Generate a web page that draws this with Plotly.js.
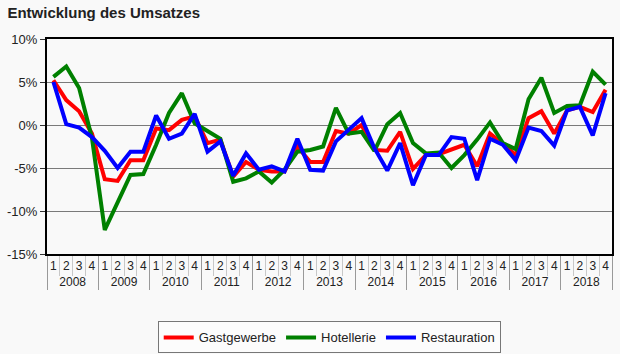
<!DOCTYPE html>
<html>
<head>
<meta charset="utf-8">
<script src="https://cdn.plot.ly/plotly-3.0.1.min.js"></script>
<style>html,body{margin:0;padding:0;background:#f9f9f9;}</style>
</head>
<body>
<div id="chart" style="width:620px;height:354px;"></div>
<script>
const years = ['2008','2009','2010','2011','2012','2013','2014','2015','2016','2017','2018'];
const quarters = ['1','2','3','4'];

const gastgewerbe = [
  5.2, 2.9, 1.6, -1.0,
  -6.3, -6.5, -4.1, -4.1,
  -0.4, -0.6, 0.6, 1.0,
  -2.1, -1.7, -6.0, -4.3,
  -5.2, -5.4, -5.4, -2.5,
  -4.3, -4.3, -0.7, -1.0,
  0.0, -2.9, -3.0, -0.8,
  -5.1, -3.5, -3.4, -2.8,
  -2.3, -4.8, -1.0, -2.2,
  -3.5, 0.8, 1.6, -1.0,
  1.7, 2.1, 1.5, 4.1
];
const hotellerie = [
  5.6, 6.8, 4.3, -1.5,
  -12.2, -8.9, -5.8, -5.7,
  -2.3, 1.4, 3.7, 0.2,
  -0.7, -1.6, -6.6, -6.2,
  -5.4, -6.7, -5.2, -3.1,
  -2.9, -2.5, 2.0, -1.0,
  -0.8, -3.0, 0.1, 1.4,
  -2.1, -3.3, -3.2, -5.0,
  -3.5, -1.7, 0.3, -2.1,
  -2.8, 3.0, 5.5, 1.4,
  2.2, 2.3, 6.2, 4.7
];
const restauration = [
  5.0, 0.1, -0.3, -1.4,
  -3.0, -5.0, -3.1, -3.1,
  1.1, -1.6, -1.0, 1.3,
  -3.1, -1.9, -5.9, -3.3,
  -5.2, -4.8, -5.4, -1.6,
  -5.2, -5.3, -1.9, -0.6,
  0.8, -2.7, -5.3, -2.1,
  -7.0, -3.5, -3.5, -1.4,
  -1.6, -6.4, -1.6, -2.3,
  -4.1, -0.3, -0.7, -2.4,
  1.7, 2.1, -1.2, 3.7
];
const seriesNames = ['Gastgewerbe', 'Hotellerie', 'Restauration'];
const yTickVals = [-15, -10, -5, 0, 5, 10];

const xYear = [], xQuarter = [];
years.forEach(y => quarters.forEach(q => { xYear.push(y); xQuarter.push(q); }));
const nPts = xYear.length;

const FONT = 'Arial, "Liberation Sans", sans-serif';
const colors = ['#ff0000', '#008000', '#0000ff'];
const data = [gastgewerbe, hotellerie, restauration].map((vals, k) => ({
  type: 'scatter',
  mode: 'lines',
  name: seriesNames[k],
  x: [xYear, xQuarter],
  y: vals,
  line: {color: colors[k], width: 4}
}));

const layout = {
  width: 620, height: 354,
  paper_bgcolor: '#f9f9f9',
  plot_bgcolor: '#f9f9f9',
  margin: {l: 47, r: 8, t: 39, b: 100},
  font: {family: FONT, size: 12, color: '#222'},
  title: {
    text: '<b>Entwicklung des Umsatzes</b>',
    font: {family: FONT, size: 15, color: '#222'},
    x: 0.012, xanchor: 'left', xref: 'container',
    y: 0.965, yanchor: 'middle', yref: 'container'
  },
  xaxis: {
    type: 'multicategory',
    range: [-0.5, nPts - 0.5],
    tickmode: 'linear', tick0: 0, dtick: 1,
    tickangle: 0,
    showline: true, linecolor: '#000', linewidth: 2, mirror: true,
    ticks: 'outside', ticklen: 20, tickcolor: '#c8c8c8', tickwidth: 1,
    showdividers: true, dividercolor: '#999', dividerwidth: 1,
    showgrid: false,
    automargin: false,
    tickfont: {family: FONT, size: 12, color: '#222'},
    fixedrange: true
  },
  yaxis: {
    range: [-15, 10],
    tickvals: yTickVals,
    ticktext: yTickVals.map(v => v + '%'),
    showline: true, linecolor: '#000', linewidth: 2, mirror: true,
    ticks: 'outside', ticklen: 5, tickcolor: '#333',
    showgrid: true, gridcolor: '#7a7a7a', gridwidth: 1,
    zeroline: false,
    automargin: false,
    tickfont: {family: FONT, size: 13, color: '#222'},
    fixedrange: true
  },
  showlegend: true,
  legend: {
    orientation: 'h',
    xref: 'container', yref: 'container',
    x: 0.531, xanchor: 'center',
    y: 0.092, yanchor: 'top',
    bgcolor: '#fcfcfc', bordercolor: '#777', borderwidth: 1,
    font: {family: FONT, size: 13, color: '#222'},
    tracegroupgap: 0
  }
};

Plotly.newPlot('chart', data, layout, {displayModeBar: false, staticPlot: true});
</script>
</body>
</html>
